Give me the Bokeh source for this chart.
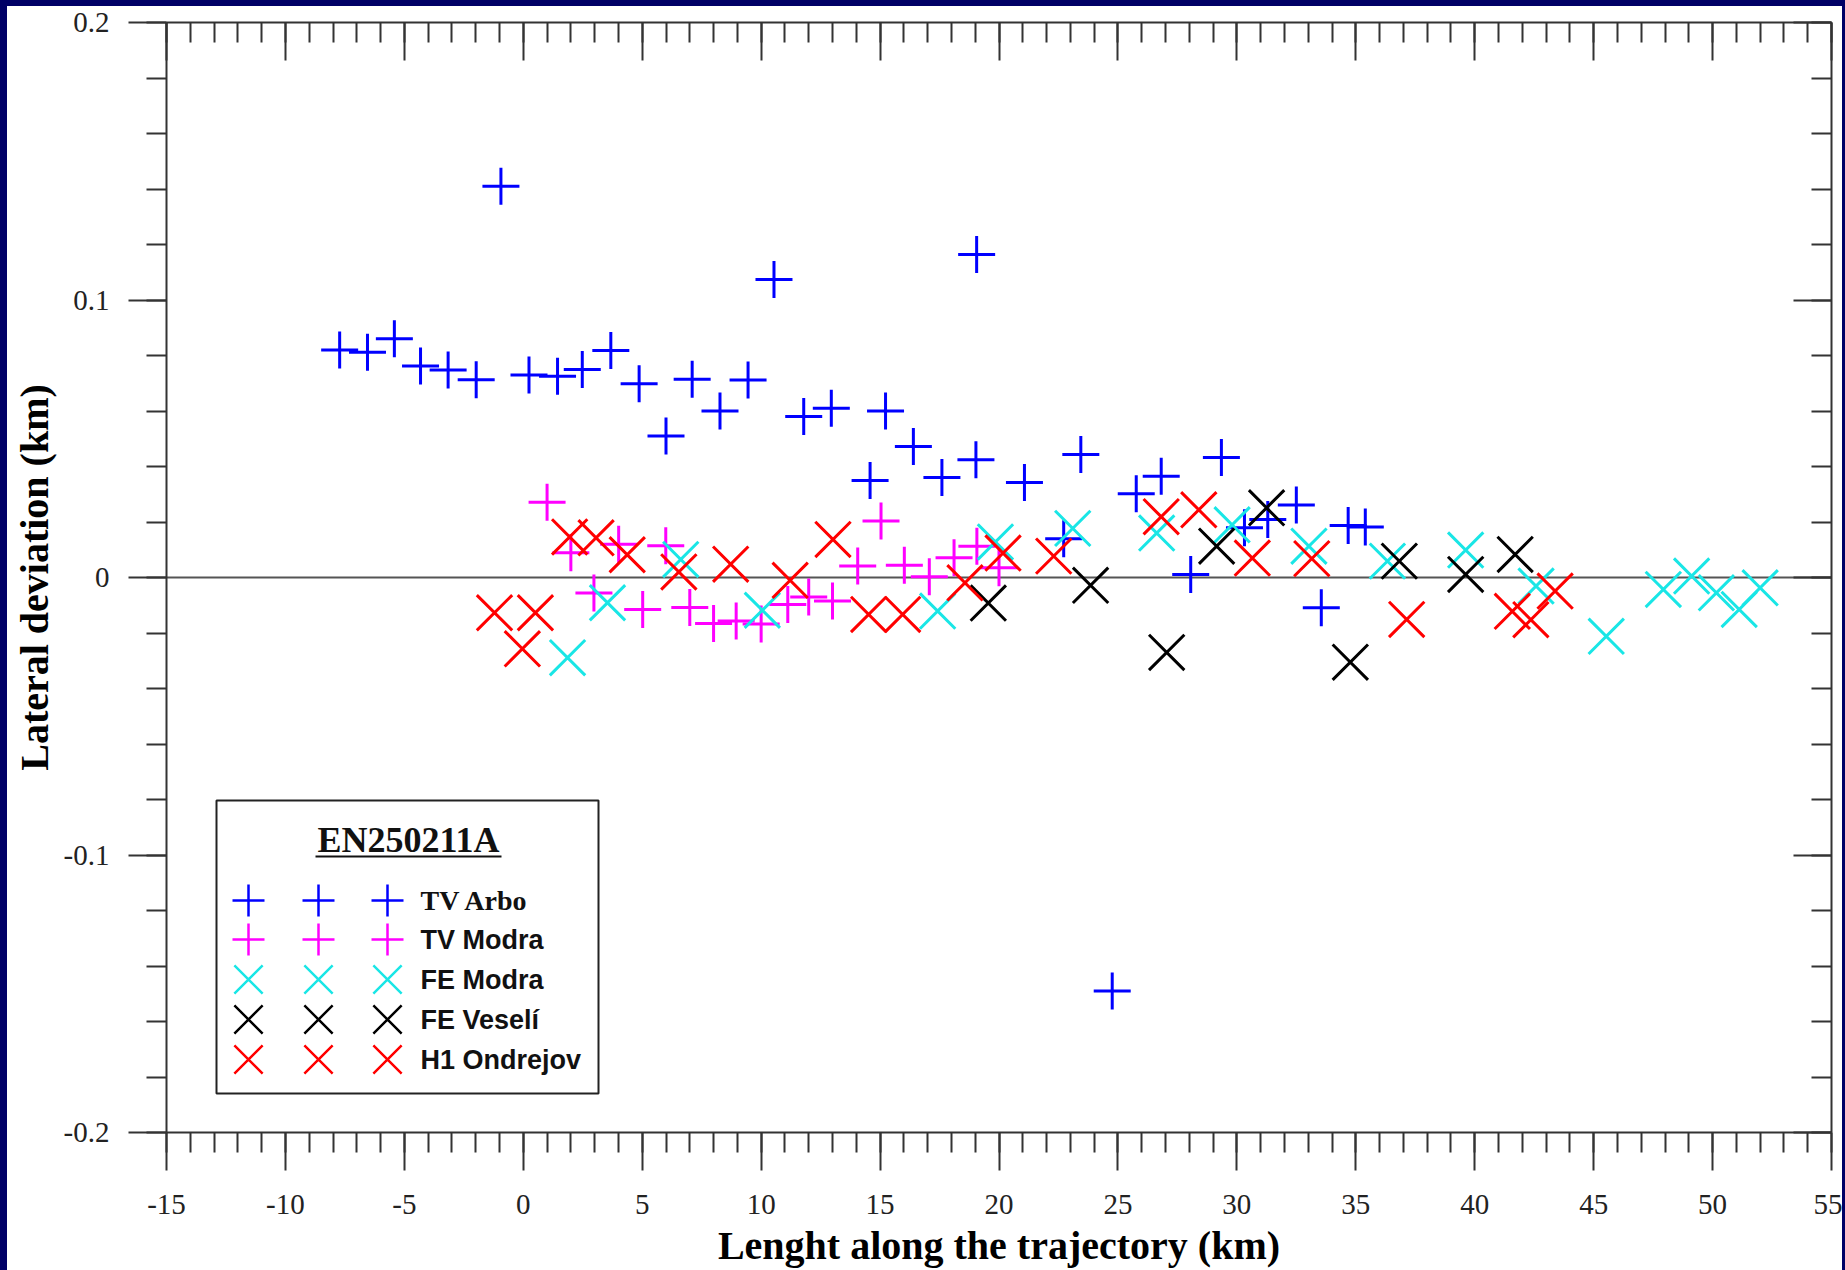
from bokeh.plotting import figure
from bokeh.models import (SingleIntervalTicker, LinearAxis, Span, CustomJSTickFormatter,
                          Range1d, Spacer)
from bokeh.layouts import column, row
from bokeh.core.properties import value
from bokeh.embed import file_html
from bokeh.resources import INLINE

# ---------------- data ----------------
tv_arbo_x = [-7.72, -6.55, -5.42, -4.32, -3.16, -1.98, -0.94, 0.24, 1.44, 2.48, 3.68, 4.87,
             6.0, 7.1, 8.27, 9.45, 10.54, 11.79, 12.95, 14.58, 15.23, 16.40, 17.6, 19.03,
             19.06, 21.07, 22.72, 23.44, 24.76, 25.77, 26.82, 28.06, 29.35, 30.32, 31.3,
             32.5, 33.55, 34.68, 35.4]
tv_arbo_y = [0.082, 0.0812, 0.086, 0.0762, 0.0748, 0.0713, 0.141, 0.073, 0.0725, 0.075,
             0.0818, 0.0698, 0.051, 0.0714, 0.060, 0.0712, 0.1074, 0.058, 0.061, 0.035,
             0.060, 0.0472, 0.036, 0.0424, 0.1164, 0.0342, 0.014, 0.0443, -0.149, 0.0302,
             0.0365, 0.0011, 0.0432, 0.0179, 0.0209, 0.0261, -0.0109, 0.0187, 0.0182]

tv_modra_x = [1.0, 2.0, 2.97, 4.01, 5.02, 5.99, 7.0, 8.0, 8.95, 10.0, 11.12, 12.0, 13.0,
              14.06, 15.04, 16.02, 17.07, 18.11, 19.07, 20.0]
tv_modra_y = [0.0271, 0.0089, -0.0056, 0.012, -0.0115, 0.0114, -0.0108, -0.0166, -0.0157,
              -0.0168, -0.0097, -0.007, -0.0085, 0.0041, 0.0204, 0.0044, 0.0003, 0.0071,
              0.0113, 0.0035]

fe_modra_x = [1.86, 3.54, 6.62, 10.05, 17.42, 19.85, 23.1, 26.63, 29.8, 33.03, 36.33, 39.62,
              42.58, 45.53, 47.93, 49.12, 50.16, 51.12, 52.0]
fe_modra_y = [-0.0289, -0.0091, 0.0065, -0.0118, -0.0121, 0.0128, 0.0177, 0.016, 0.019,
              0.0113, 0.0059, 0.0099, -0.0031, -0.0212, -0.0043, 0.0005, -0.0055, -0.0115,
              -0.0037]

fe_veseli_x = [19.55, 23.85, 27.05, 29.15, 31.25, 34.77, 36.83, 39.62, 41.7]
fe_veseli_y = [-0.0092, -0.0028, -0.027, 0.0113, 0.0251, -0.0305, 0.0059, 0.0011, 0.0083]

h1_ondrejov_x = [-1.21, -0.04, 0.51, 1.95, 3.06, 4.37, 6.54, 8.72, 11.22, 13.02, 14.52, 15.95,
                 18.57, 20.17, 22.3, 26.82, 28.4, 30.65, 33.15, 37.14, 41.58, 42.36, 43.38]
h1_ondrejov_y = [-0.0127, -0.0257, -0.0127, 0.0146, 0.0143, 0.0082, 0.002, 0.0048, -0.001,
                 0.0137, -0.0133, -0.0133, -0.0019, 0.0088, 0.0077, 0.0219, 0.0244, 0.007,
                 0.0068, -0.0151, -0.0122, -0.0152, -0.0049]

series_names = ["TV Arbo", "TV Modra", "FE Modra", "FE Veselí", "H1 Ondrejov"]
legend_title = "EN250211A"
x_title = "Lenght along the trajectory (km)"
y_title = "Lateral deviation (km)"

# ---------------- styling / layout ----------------
NAVY = "#000066"
PAGE_W, PAGE_H = 1845, 1270
W_LEFT, W_TOP, W_RIGHT = 7, 6, 3
FIG_W = PAGE_W - W_LEFT - W_RIGHT
FIG_H = PAGE_H - W_TOP
X0, X1, Y0, Y1 = -15, 55, -0.2, 0.2
# frame position on the page (px)
FL, FT, FR, FB = 166, 22, 1831, 1132

SERIF = "Liberation Serif"
SANS = "Liberation Sans"

colors = ["#0000ff", "#ff00ff", "#19e6e6", "#000000", "#ff0000"]
markers = ["cross", "cross", "x", "x", "x"]
sizes = [37, 37, 50, 50, 50]
leg_sizes = [32, 32, 40, 40, 40]

p = figure(width=FIG_W, height=FIG_H, x_range=Range1d(X0, X1), y_range=Range1d(Y0, Y1),
           output_backend="svg", toolbar_location=None,
           x_axis_location=None, y_axis_location=None,
           min_border_left=FL - W_LEFT, min_border_top=FT - W_TOP,
           min_border_right=FIG_W - (FR - W_LEFT), min_border_bottom=FIG_H - (FB - W_TOP),
           background_fill_color="white", border_fill_color="white")
p.outline_line_color = None
p.grid.grid_line_color = None

AX_COLOR = "#333333"
xt = SingleIntervalTicker(interval=5, num_minor_ticks=5)
yt = SingleIntervalTicker(interval=0.1, num_minor_ticks=5)
xfmt = CustomJSTickFormatter(code="return Math.round(tick).toString();")
yfmt = CustomJSTickFormatter(code="return (Math.round(tick*10)/10).toString();")
nofmt = CustomJSTickFormatter(code="return '';")


def style_axis(ax):
    ax.axis_line_color = AX_COLOR
    ax.axis_line_width = 2
    ax.major_tick_line_color = AX_COLOR
    ax.major_tick_line_width = 2
    ax.minor_tick_line_color = AX_COLOR
    ax.minor_tick_line_width = 2
    ax.major_label_text_font = SERIF
    ax.major_label_text_font_size = "29px"
    ax.major_label_text_color = "#222222"
    ax.axis_label_text_font = SERIF
    ax.axis_label_text_font_style = "bold"
    ax.axis_label_text_font_size = "40px"
    ax.axis_label_text_color = "#000000"


bottom = LinearAxis(ticker=xt, formatter=xfmt, axis_label=x_title,
                    major_tick_out=38, major_tick_in=0, minor_tick_out=20, minor_tick_in=0,
                    major_label_standoff=24, axis_label_standoff=6)
style_axis(bottom)
p.add_layout(bottom, "below")

top = LinearAxis(ticker=xt, formatter=nofmt,
                 major_tick_out=0, major_tick_in=38, minor_tick_out=0, minor_tick_in=20,
                 major_label_standoff=0)
style_axis(top)
top.major_label_text_font_size = "0px"
p.add_layout(top, "above")

left = LinearAxis(ticker=yt, formatter=yfmt, axis_label=y_title,
                  major_tick_out=38, major_tick_in=0, minor_tick_out=20, minor_tick_in=0,
                  major_label_standoff=19, axis_label_standoff=4)
style_axis(left)
p.add_layout(left, "left")

right = LinearAxis(ticker=yt, formatter=nofmt,
                   major_tick_out=0, major_tick_in=38, minor_tick_out=0, minor_tick_in=20,
                   major_label_standoff=0)
style_axis(right)
right.major_label_text_font_size = "0px"
p.add_layout(right, "right")

zero = Span(location=0, dimension="width", line_color="#555555", line_width=2, level="underlay")
p.add_layout(zero)

all_x = [tv_arbo_x, tv_modra_x, fe_modra_x, fe_veseli_x, h1_ondrejov_x]
all_y = [tv_arbo_y, tv_modra_y, fe_modra_y, fe_veseli_y, h1_ondrejov_y]
for xs, ys, c, m, s in zip(all_x, all_y, colors, markers, sizes):
    p.scatter(xs, ys, marker=m, size=s, line_color=c, line_width=3)


# ---------------- helpers: page pixel -> data coordinate ----------------
def px_x(px):
    return X0 + (px - FL) * (X1 - X0) / (FR - FL)


def px_y(py):
    return Y1 - (py - FT) * (Y1 - Y0) / (FB - FT)


# ---------------- legend (drawn in the plot) ----------------
p.quad(left=[px_x(216)], right=[px_x(598)], top=[px_y(800)], bottom=[px_y(1093)],
       fill_color="white", line_color="#222222", line_width=2)
p.text(x=[px_x(408)], y=[px_y(839)], text=[legend_title], text_align="center",
       text_baseline="middle", text_font=value(SERIF), text_font_style="bold",
       text_font_size="36px", text_color="#111111")
p.segment(x0=[px_x(315)], x1=[px_x(501)], y0=[px_y(856)], y1=[px_y(856)],
          line_color="#111111", line_width=2)

row_y = [900, 939, 979, 1019, 1059]
col_x = [248, 318, 387]
for i, name in enumerate(series_names):
    yy = px_y(row_y[i])
    p.scatter([px_x(cx) for cx in col_x], [yy] * 3, marker=markers[i], size=leg_sizes[i],
              line_color=colors[i], line_width=2.5)
    fnt = SERIF if i == 0 else SANS
    fs = "28px" if i == 0 else "27px"
    p.text(x=[px_x(420)], y=[yy], text=[name], text_align="left", text_baseline="middle",
           text_font=value(fnt), text_font_style="bold", text_font_size=fs,
           text_color="#111111")

# ---------------- page ----------------
top_bar = Spacer(width=PAGE_W, height=W_TOP, styles={"background-color": NAVY})
left_bar = Spacer(width=W_LEFT, height=FIG_H, styles={"background-color": NAVY})
right_bar = Spacer(width=W_RIGHT, height=FIG_H, styles={"background-color": NAVY})
page = column(top_bar, row(left_bar, p, right_bar))

open("out.html", "w").write(file_html(page, INLINE))
